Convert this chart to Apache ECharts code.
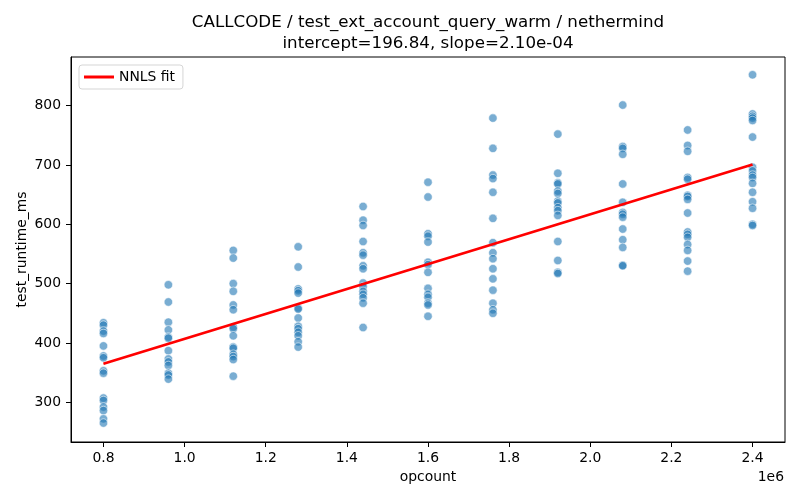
<!DOCTYPE html>
<html>
<head>
<meta charset="utf-8">
<script src="https://cdn.jsdelivr.net/npm/echarts@6/dist/echarts.min.js"></script>
<style>
  html, body { margin: 0; padding: 0; background: #fff; }
  #chart { width: 800px; height: 500px; }
</style>
</head>
<body>
<div id="chart"></div>
<script>
const opcountLevels = [800000, 960000, 1120000, 1280000, 1440000, 1600000, 1760000, 1920000, 2080000, 2240000, 2400000];
const runtime_0800 = [434, 430, 420, 416, 395, 378, 375, 353, 349, 307, 303, 292, 286, 272, 265];
const runtime_0960 = [498, 469, 435, 422, 410, 408, 387, 373, 368, 362, 349, 346, 339];
const runtime_1120 = [556, 543, 500, 487, 464, 456, 427, 424, 412, 393, 391, 381, 377, 372, 344];
const runtime_1280 = [562, 528, 491, 488, 484, 459, 457, 442, 428, 424, 418, 412, 402, 393];
const runtime_1440 = [630, 607, 598, 571, 552, 548, 530, 525, 501, 495, 487, 482, 476, 467, 426];
const runtime_1600 = [671, 646, 584, 580, 570, 536, 532, 519, 492, 482, 477, 467, 464, 445];
const runtime_1760 = [779, 728, 683, 677, 654, 610, 569, 552, 542, 525, 508, 489, 467, 456, 450];
const runtime_1920 = [752, 686, 670, 668, 656, 652, 639, 636, 628, 623, 615, 571, 539, 519, 517];
const runtime_2080 = [801, 731, 728, 718, 668, 637, 620, 617, 612, 592, 574, 561, 531, 530];
const runtime_2240 = [759, 733, 723, 679, 676, 649, 647, 642, 619, 587, 583, 578, 566, 556, 538, 521];
const runtime_2400 = [852, 786, 782, 779, 775, 747, 696, 690, 683, 679, 669, 654, 638, 627, 600, 598];
const runtimeByLevel = [runtime_0800, runtime_0960, runtime_1120, runtime_1280, runtime_1440, runtime_1600,
                        runtime_1760, runtime_1920, runtime_2080, runtime_2240, runtime_2400];

// NNLS fit line endpoints
const fitX = [800000, 2400000];
const fitY = [364.84, 700.84];

// tick labels
const xTicks = [800000, 1000000, 1200000, 1400000, 1600000, 1800000, 2000000, 2200000, 2400000];
const yTicks = [300, 400, 500, 600, 700, 800];

const titleLine1 = 'CALLCODE / test_ext_account_query_warm / nethermind';
const titleLine2 = 'intercept=196.84, slope=2.10e-04';

const points = [];
opcountLevels.forEach((x, i) => {
  runtimeByLevel[i].forEach((y) => points.push([x, y]));
});
const fitLine = fitX.map((x, i) => [x, fitY[i]]);

const font = 'DejaVu Sans';
const fs = 13.9;
const chart = echarts.init(document.getElementById('chart'));
const option = {
  animation: false,
  textStyle: { fontFamily: font },
  grid: { left: 71, right: 15, top: 57, bottom: 58, show: true, borderColor: '#000', borderWidth: 1 },
  legend: {
    data: ['NNLS fit'],
    left: 79, top: 65,
    padding: [5, 8, 5, 5],
    borderColor: '#d5d5d5', borderWidth: 1, borderRadius: 3,
    backgroundColor: 'rgba(255,255,255,0.8)',
    icon: 'rect', itemWidth: 30, itemHeight: 3, itemGap: 8,
    textStyle: { fontFamily: font, fontSize: fs, color: '#000' }
  },
  xAxis: {
    type: 'value', min: 720000, max: 2480000,
    name: 'opcount', nameLocation: 'middle', nameGap: 28,
    nameMoveOverlap: false,
    nameTextStyle: { fontFamily: font, fontSize: fs, color: '#000' },
    splitLine: { show: false },
    axisLine: { lineStyle: { color: '#000', width: 1 } },
    axisTick: { length: 5, lineStyle: { color: '#000' }, customValues: xTicks },
    axisLabel: {
      color: '#000', fontSize: fs, fontFamily: font, margin: 9,
      customValues: xTicks,
      formatter: (v) => (v / 1e6).toFixed(1)
    }
  },
  yAxis: {
    type: 'value', min: 233, max: 882,
    name: 'test_runtime_ms', nameLocation: 'middle', nameGap: 42,
    nameMoveOverlap: false,
    nameTextStyle: { fontFamily: font, fontSize: fs, color: '#000' },
    splitLine: { show: false },
    axisLine: { show: true, lineStyle: { color: '#000', width: 1 } },
    axisTick: { show: true, length: 5, lineStyle: { color: '#000' }, customValues: yTicks },
    axisLabel: { color: '#000', fontSize: fs, fontFamily: font, margin: 10, customValues: yTicks }
  },
  graphic: [
    { type: 'text', x: 428, y: 23, style: { text: titleLine1, fill: '#000', font: '16.7px "DejaVu Sans"', textAlign: 'center', textVerticalAlign: 'middle' } },
    { type: 'text', x: 428, y: 44, style: { text: titleLine2, fill: '#000', font: '16.7px "DejaVu Sans"', textAlign: 'center', textVerticalAlign: 'middle' } },
    { type: 'text', x: 784, y: 477, style: { text: '1e6', fill: '#000', font: '13.9px "DejaVu Sans"', textAlign: 'right', textVerticalAlign: 'middle' } }
  ],
  series: [
    {
      name: 'runtime', type: 'scatter', data: points,
      symbolSize: 8.5,
      itemStyle: { color: 'rgba(31,119,180,0.75)', borderColor: '#fff', borderWidth: 0.7 },
      z: 2
    },
    {
      name: 'NNLS fit', type: 'line', data: fitLine,
      symbol: 'none', showSymbol: false,
      lineStyle: { color: '#ff0000', width: 2.7 },
      itemStyle: { color: '#ff0000' },
      z: 3
    }
  ]
};
chart.setOption(option);
</script>
</body>
</html>
